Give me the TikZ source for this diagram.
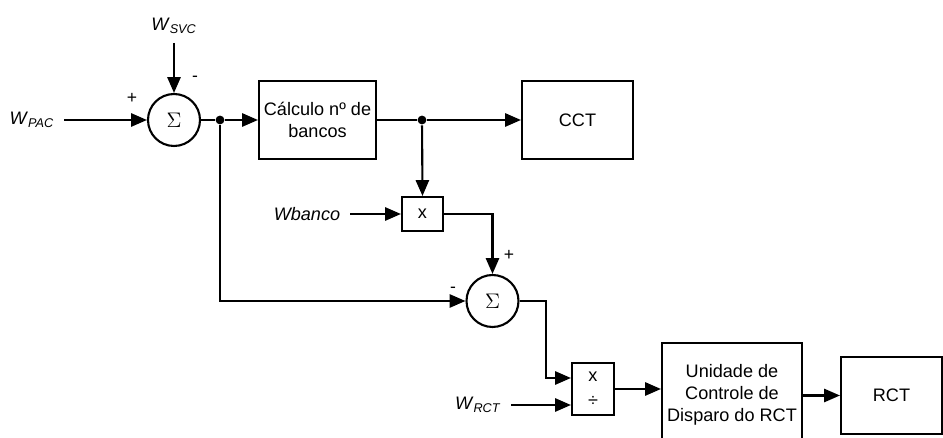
\documentclass[tikz,border=0pt]{standalone}
\usepackage{fontspec}
\setmainfont{Liberation Sans}
\usetikzlibrary{arrows.meta}
\newcommand{\wsig}[1]{\textit{W}\textsubscript{\textit{#1}}}
\begin{document}
\begin{tikzpicture}[x=0.02cm, y=-0.02cm,
    font=\fontsize{10.3}{12.5}\selectfont,
    line width=1.2pt,
    flow/.style={-{Triangle[length=9pt,width=7.5pt]}},
    sumnode/.style={draw, circle, inner sep=0pt, minimum size=1.04cm, font=\large},
    blk/.style={draw, inner sep=1pt, align=center},
    sig/.style={inner sep=5pt},
    sgn/.style={inner sep=0pt, font=\normalsize},
    dot/.style={circle, fill, inner sep=0pt, minimum size=5pt}]
        \clip (0,0) rectangle (943,438);
        % define point
        \node[sumnode] (s1)   at (174,120) {$\Sigma$};
        \node[sumnode] (s2)   at (492.5,301) {$\Sigma$};
        \node[blk, minimum width=2.34cm, minimum height=1.56cm] (calc) at (317.5,120) {Cálculo nº de\\bancos};
        \node[blk, minimum width=2.22cm, minimum height=1.56cm] (cct)  at (577.5,120) {CCT};
        \node[blk, minimum width=0.82cm, minimum height=0.68cm] (mul)  at (422.5,214) {x};
        \node[blk, minimum width=0.84cm, minimum height=1.04cm] (div)  at (593,389) {x\\[2pt]÷};
        \node[blk, minimum width=2.8cm,  minimum height=2.08cm] (ucd)  at (732,395) {Unidade de\\Controle de\\Disparo do RCT};
        \node[blk, minimum width=2.02cm, minimum height=1.54cm] (rct)  at (891.5,395.5) {RCT};
        % inputs
        \node[sig, anchor=east]  (pac) at (64,120)  {\wsig{PAC}};
        \node[sig, anchor=south] (svc) at (174,43)  {\wsig{SVC}};
        \node[sig, anchor=east]  (wb)  at (350,214) {\textit{Wbanco}};
        \node[sig, anchor=east]  (wr)  at (511,405) {\wsig{RCT}};
        % signs
        \node[sgn] (p1) at (132,98)  {+};
        \node[sgn] (m1) at (195,79)  {-};
        \node[sgn] (p2) at (509,255) {+};
        \node[sgn] (m2) at (453,290) {-};
        % branch points
        \node[dot] (j1) at (220,120) {};
        \node[dot] (j2) at (422,120) {};
        % connections
        \draw[flow] (pac) -- (s1.west);
        \draw[flow] (svc) -- (s1.north);
        \draw[flow] (s1.east) -- (j1) -- (calc.west);
        \draw[flow] (calc.east) -- (j2) -- (cct.west);
        \draw[flow] (j2) -- (mul.north);
        \draw[flow] (wb) -- (mul.west);
        \draw[flow] (mul.east) -| (s2.north);
        \draw[flow] (j1) |- (s2.west);
        \draw[flow] (s2.east) -- ++(26,0) |- ([yshift=0.22cm]div.west);
        \draw[flow] (wr) -- (wr -| div.west);
        \draw[flow] (div.east) -- (div.east -| ucd.west);
        \draw[flow] (ucd.east |- rct.west) -- (rct.west);
    \end{tikzpicture}
\end{document}
